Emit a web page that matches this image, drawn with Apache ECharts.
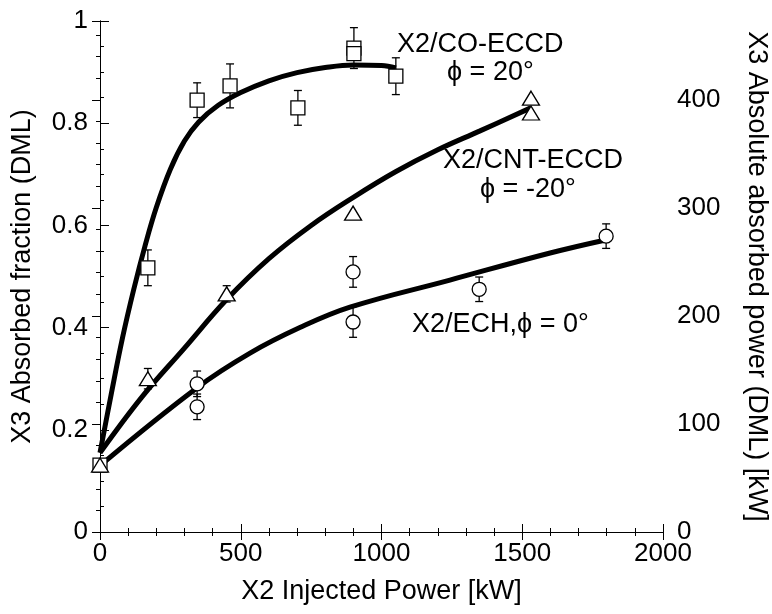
<!DOCTYPE html>
<html>
<head>
<meta charset="utf-8">
<script src="https://cdn.jsdelivr.net/npm/echarts@6/dist/echarts.min.js"></script>
<style>
  html, body { margin: 0; padding: 0; background: #fff; }
  #main { width: 772px; height: 614px; }
</style>
</head>
<body>
<div id="main"></div>
<script>
var coX = [0, 170, 345, 462, 703, 902, 902, 1051];
var coY = [0.131, 0.517, 0.845, 0.873, 0.83, 0.947, 0.936, 0.892];
var coErr = [0, 0.035, 0.034, 0.043, 0.034, 0.04, 0, 0.036];

var cntX = [0, 170, 450, 899, 1531, 1531];
var cntY = [0.131, 0.30, 0.466, 0.624, 0.849, 0.82];
var cntErr = [0, 0.02, 0.016, 0, 0, 0];

var echX = [345, 345, 899, 899, 1347, 1798];
var echY = [0.29, 0.245, 0.509, 0.411, 0.475, 0.579];
var echErr = [0.025, 0.025, 0.03, 0.03, 0.024, 0.024];

// fitted curves
var coFitX = [0, 40, 80, 120, 160, 200, 250, 300, 350, 420, 500, 600, 700, 800, 900, 1000, 1051];
var coFitY = [0.155, 0.27, 0.38, 0.475, 0.56, 0.635, 0.71, 0.765, 0.802, 0.835, 0.86, 0.883, 0.899, 0.909, 0.914, 0.913, 0.908];

var cntFitX = [0, 150, 300, 450, 600, 750, 900, 1050, 1200, 1350, 1530];
var cntFitY = [0.155, 0.265, 0.36, 0.455, 0.535, 0.6, 0.655, 0.705, 0.748, 0.785, 0.83];

var echFitX = [0, 344, 533, 710, 888, 1243, 1599, 1800];
var echFitY = [0.13, 0.282, 0.35, 0.40, 0.44, 0.493, 0.546, 0.572];

var FONT = "'Liberation Sans', Arial, sans-serif";

function pairs(xs, ys) {
  var out = [];
  for (var i = 0; i < xs.length; i++) out.push([xs[i], ys[i]]);
  return out;
}
function bars(xs, ys, es) {
  var out = [];
  for (var i = 0; i < xs.length; i++) {
    if (es[i] > 0) out.push([xs[i], ys[i] - es[i], ys[i] + es[i]]);
  }
  return out;
}

function renderErr(params, api) {
  var x = api.value(0);
  var top = api.coord([x, api.value(2)]);
  var bot = api.coord([x, api.value(1)]);
  var w = 4;
  var st = { stroke: '#000', lineWidth: 1.3 };
  return {
    type: 'group',
    children: [
      { type: 'line', shape: { x1: top[0], y1: top[1], x2: bot[0], y2: bot[1] }, style: st },
      { type: 'line', shape: { x1: top[0] - w, y1: top[1], x2: top[0] + w, y2: top[1] }, style: st },
      { type: 'line', shape: { x1: bot[0] - w, y1: bot[1], x2: bot[0] + w, y2: bot[1] }, style: st }
    ]
  };
}

var chart = echarts.init(document.getElementById('main'));

var nameStyle = { color: '#000', fontSize: 27, fontFamily: FONT };

function fitLine(xs, ys) {
  return {
    type: 'line', data: pairs(xs, ys), smooth: 0.4, showSymbol: false, symbol: 'none',
    lineStyle: { color: '#000', width: 5 }, z: 2, animation: false
  };
}
function pts(xs, ys, sym, size) {
  return {
    type: 'scatter', data: pairs(xs, ys), symbol: sym, symbolSize: size,
    itemStyle: { color: '#fff', borderColor: '#000', borderWidth: 1.3, opacity: 1 },
    z: 4, animation: false
  };
}
function errs(xs, ys, es) {
  return { type: 'custom', renderItem: renderErr, data: bars(xs, ys, es), z: 3, animation: false };
}
function note(text, left, top) {
  return { type: 'text', left: left, top: top, style: { text: text, fill: '#000', font: '27px ' + FONT } };
}

var option = {
  backgroundColor: '#fff',
  animation: false,
  grid: { left: 100, right: 109, top: 21, bottom: 82, outerBoundsMode: 'none' },
  xAxis: [{
    type: 'value', min: 0, max: 2000, interval: 500,
    name: 'X2 Injected Power [kW]', nameLocation: 'middle', nameGap: 46, nameTextStyle: nameStyle,
    axisLine: { lineStyle: { color: '#000', width: 1 } },
    axisTick: { inside: true, length: 8, lineStyle: { color: '#000' } },
    minorTick: { show: true, splitNumber: 5, length: 4, lineStyle: { color: '#000' } },
    axisLabel: { margin: 9, color: '#000', fontSize: 26, fontFamily: FONT,
      formatter: function (v) { return String(v); } },
    splitLine: { show: false }
  }, {
    type: 'value', position: 'top', min: 0, max: 2000, interval: 500,
    axisLine: { lineStyle: { color: '#000', width: 1 } },
    axisTick: { inside: true, length: 8, lineStyle: { color: '#000' } },
    minorTick: { show: true, splitNumber: 5, length: 4, lineStyle: { color: '#000' } },
    axisLabel: { show: false },
    splitLine: { show: false }
  }],
  yAxis: [{
    type: 'value', min: 0, max: 1, interval: 0.2,
    name: 'X3 Absorbed fraction (DML)', nameLocation: 'middle', nameGap: 64, nameRotate: 90,
    nameTextStyle: nameStyle,
    axisLine: { show: true, lineStyle: { color: '#000', width: 1 } },
    axisTick: { show: true, inside: true, length: 9, lineStyle: { color: '#000' } },
    minorTick: { show: true, splitNumber: 4, length: 4, lineStyle: { color: '#000' } },
    axisLabel: { margin: 12, color: '#000', fontSize: 26, fontFamily: FONT },
    splitLine: { show: false }
  }, {
    type: 'value', position: 'right', min: 0, max: 473, interval: 100,
    name: 'X3 Absolute absorbed power (DML) [kW]', nameLocation: 'middle', nameGap: 80, nameRotate: -90,
    nameTextStyle: nameStyle,
    axisLine: { show: true, lineStyle: { color: '#000', width: 1 } },
    axisTick: { show: true, inside: true, length: 8, lineStyle: { color: '#000' } },
    minorTick: { show: true, splitNumber: 5, length: 4, lineStyle: { color: '#000' } },
    axisLabel: { margin: 14, color: '#000', fontSize: 26, fontFamily: FONT, showMaxLabel: false },
    splitLine: { show: false }
  }],
  graphic: [
    note('X2/CO-ECCD', 397, 31),
    note('ϕ = 20°', 447, 59),
    note('X2/CNT-ECCD', 443, 147),
    note('ϕ = -20°', 480, 176),
    note('X2/ECH,ϕ = 0°', 412, 311)
  ],
  series: [
    fitLine(coFitX, coFitY),
    fitLine(cntFitX, cntFitY),
    fitLine(echFitX, echFitY),
    errs(coX, coY, coErr),
    errs(cntX, cntY, cntErr),
    errs(echX, echY, echErr),
    pts(echX, echY, 'circle', 14),
    pts(coX, coY, 'rect', 14),
    pts(cntX, cntY, 'triangle', [17, 14])
  ]
};

chart.setOption(option);
</script>
</body>
</html>
